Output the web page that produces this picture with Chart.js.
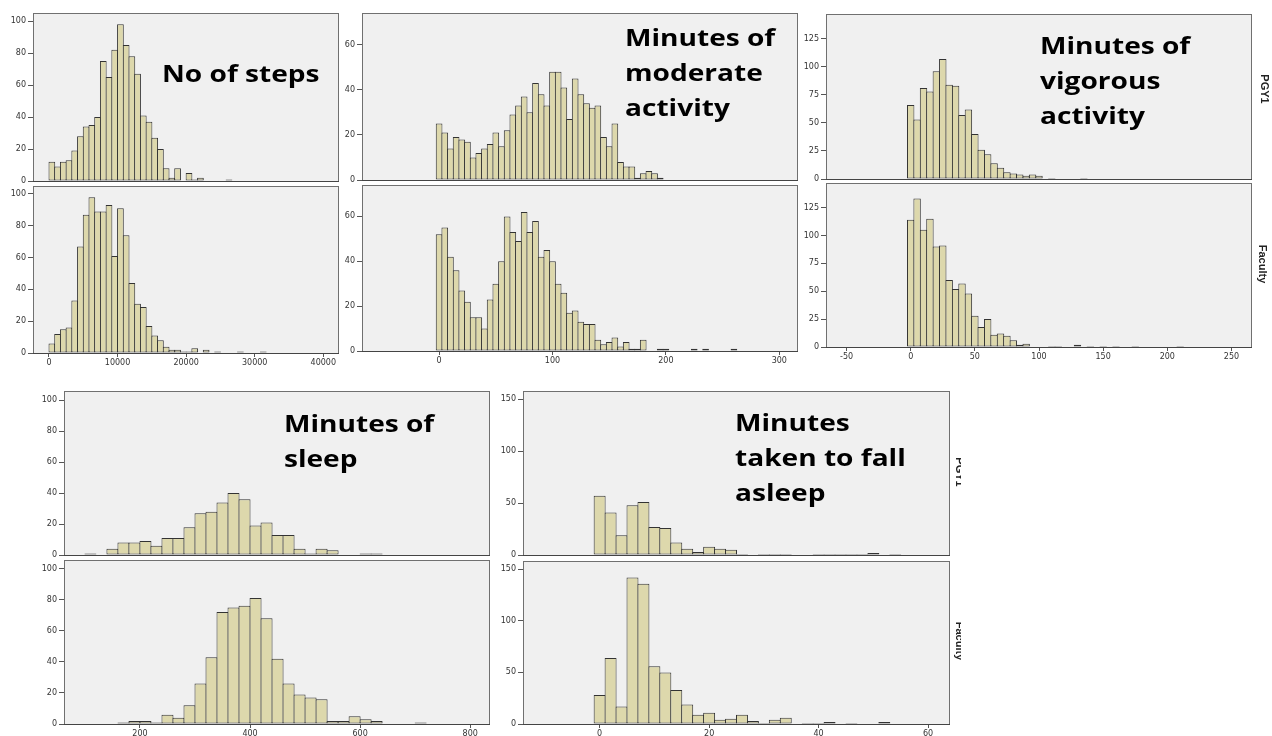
<!DOCTYPE html>
<html>
<head>
<meta charset="utf-8">
<script src="https://cdn.jsdelivr.net/npm/chart.js@4/dist/chart.umd.min.js"></script>
<style>
  body { margin: 0; background: #fff; width: 1272px; height: 736px; overflow: hidden; position: relative; font-family: "Open Sans", sans-serif; }
  canvas { position: absolute; z-index: 1; }
  .title { position: absolute; z-index: 2; font-weight: 700; font-size: 24px; line-height: 35px; color: #000; white-space: nowrap; transform-origin: 0 0; transform: scaleX(1.17); }
  .group { position: absolute; font-family: "Liberation Sans", sans-serif; font-weight: 700; font-size: 11px; color: #222; white-space: nowrap; transform: translate(-50%, -50%) rotate(90deg); }
  .clip { position: absolute; z-index: 2; overflow: hidden; }
</style>
</head>
<body>

<div class="title" style="left:162px; top:55px;">No of steps</div>
<div class="title" style="left:625px; top:19px;">Minutes of<br>moderate<br>activity</div>
<div class="title" style="left:1040px; top:27px;">Minutes of<br>vigorous<br>activity</div>
<div class="title" style="left:284px; top:405px;">Minutes of<br>sleep</div>
<div class="title" style="left:735px; top:404px;">Minutes<br>taken to fall<br>asleep</div>

<div class="clip" style="left:1252px; top:0px; width:20px; height:360px;">
  <div class="group" style="left:13px; top:89px;">PGY1</div>
  <div class="group" style="left:11px; top:264px;">Faculty</div>
</div>
<div class="clip" style="left:940px; top:380px; width:21px; height:340px;">
  <div class="group" style="left:20px; top:92px;">PGY1</div>
  <div class="group" style="left:20px; top:261px;">Faculty</div>
</div>

<script>
// histogram counts (bins in order, zero = empty bin)
const stepsBinStart = 0;
const stepsBinWidth = 20000 / 24;
const stepsTicks = [0, 10000, 20000, 30000, 40000];
const stepsCountTicks = [0, 20, 40, 60, 80, 100];
const stepsPGY1 = [12, 9, 12, 13, 19, 28, 34, 35, 40, 75, 65, 82, 98, 85, 78, 67, 41, 37, 27, 20,
  8, 2, 8, 0, 5, 1, 2, 0, 0, 0, 0, 1];
const stepsFaculty = [6, 12, 15, 16, 33, 67, 87, 98, 89, 89, 93, 61, 91, 74, 44, 31, 29, 17, 11, 8,
  4, 2, 2, 1, 1, 3, 0, 2, 0, 1, 0, 0, 0, 1, 0, 0, 0, 1];

const moderateBinStart = -2.5;
const moderateBinWidth = 5;
const moderateTicks = [0, 100, 200, 300];
const moderateCountTicks = [0, 20, 40, 60];
const moderatePGY1 = [25, 21, 14, 19, 18, 17, 10, 12, 14, 16, 21, 15, 22, 29, 33, 37, 30, 43, 38, 33,
  48, 48, 41, 27, 45, 38, 34, 32, 33, 19, 15, 25, 8, 6, 6, 1, 3, 4, 3, 1];
const moderateFaculty = [52, 55, 42, 36, 27, 22, 15, 15, 10, 23, 30, 40, 60, 53, 49, 62, 53, 58, 42, 45,
  40, 30, 26, 17, 18, 13, 12, 12, 5, 3, 4, 6, 2, 4, 1, 1, 5, 0, 0, 1,
  1, 0, 0, 0, 0, 1, 0, 1, 0, 0, 0, 0, 1];

const vigorousBinStart = -2.5;
const vigorousBinWidth = 5;
const vigorousTicks = [-50, 0, 50, 100, 150, 200, 250];
const vigorousCountTicks = [0, 25, 50, 75, 100, 125];
const vigorousPGY1 = [66, 53, 81, 78, 96, 107, 84, 83, 57, 62, 40, 26, 22, 14, 10, 6, 5, 4, 3, 4,
  3, 0, 1, 0, 0, 0, 0, 1];
const vigorousFaculty = [114, 133, 105, 115, 90, 91, 60, 52, 57, 48, 28, 18, 25, 11, 12, 10, 6, 2, 3, 0,
  0, 0, 1, 1, 0, 0, 2, 0, 1, 0, 1, 0, 1, 0, 0, 1, 0, 0, 0, 0, 0, 0, 1];

const sleepBinStart = 100;
const sleepBinWidth = 20;
const sleepTicks = [200, 400, 600, 800];
const sleepCountTicks = [0, 20, 40, 60, 80, 100];
const sleepPGY1 = [1, 0, 4, 8, 8, 9, 6, 11, 11, 18, 27, 28, 34, 40, 36, 19, 21, 13, 13, 4,
  1, 4, 3, 0, 0, 1, 1];
const sleepFaculty = [0, 0, 0, 1, 2, 2, 1, 6, 4, 12, 26, 43, 72, 75, 76, 81, 68, 42, 26, 19,
  17, 16, 2, 2, 5, 3, 2, 0, 0, 0, 1];

const fallBinStart = -1;
const fallBinWidth = 2;
const fallTicks = [0, 20, 40, 60];
const fallCountTicks = [0, 50, 100, 150];
const fallPGY1 = [57, 41, 19, 48, 51, 27, 26, 12, 6, 3, 8, 6, 5, 1, 0, 1, 1, 1, 0, 0,
  1, 1, 1, 1, 1, 2, 0, 1];
const fallFaculty = [28, 64, 17, 142, 136, 56, 50, 33, 19, 9, 11, 4, 5, 9, 3, 1, 4, 6, 0, 1,
  1, 2, 0, 1, 0, 0, 2];

// panel frames on the page: [left, top, right, bottom]
const panels = [
  { frame: [33, 13, 339, 181], xr: [-2333, 42290], xt: stepsTicks, ymax: 105, yt: stepsCountTicks, counts: stepsPGY1, b0: stepsBinStart, bw: stepsBinWidth, showX: false },
  { frame: [33, 186, 339, 353], xr: [-2333, 42290], xt: stepsTicks, ymax: 105, yt: stepsCountTicks, counts: stepsFaculty, b0: stepsBinStart, bw: stepsBinWidth, showX: true },
  { frame: [362, 13, 798, 180], xr: [-68, 316.5], xt: moderateTicks, ymax: 74, yt: moderateCountTicks, counts: moderatePGY1, b0: moderateBinStart, bw: moderateBinWidth, showX: false },
  { frame: [362, 185, 798, 351], xr: [-68, 316.5], xt: moderateTicks, ymax: 74, yt: moderateCountTicks, counts: moderateFaculty, b0: moderateBinStart, bw: moderateBinWidth, showX: true },
  { frame: [826, 14, 1252, 179], xr: [-66, 266], xt: vigorousTicks, ymax: 147, yt: vigorousCountTicks, counts: vigorousPGY1, b0: vigorousBinStart, bw: vigorousBinWidth, showX: false },
  { frame: [826, 183, 1252, 347], xr: [-66, 266], xt: vigorousTicks, ymax: 147, yt: vigorousCountTicks, counts: vigorousFaculty, b0: vigorousBinStart, bw: vigorousBinWidth, showX: true },
  { frame: [64, 391, 490, 555], xr: [62, 836], xt: sleepTicks, ymax: 106, yt: sleepCountTicks, counts: sleepPGY1, b0: sleepBinStart, bw: sleepBinWidth, showX: false },
  { frame: [64, 560, 490, 724], xr: [62, 836], xt: sleepTicks, ymax: 105.5, yt: sleepCountTicks, counts: sleepFaculty, b0: sleepBinStart, bw: sleepBinWidth, showX: true },
  { frame: [523, 391, 950, 555], xr: [-14, 64], xt: fallTicks, ymax: 158, yt: fallCountTicks, counts: fallPGY1, b0: fallBinStart, bw: fallBinWidth, showX: false },
  { frame: [523, 561, 950, 724], xr: [-14, 64], xt: fallTicks, ymax: 158, yt: fallCountTicks, counts: fallFaculty, b0: fallBinStart, bw: fallBinWidth, showX: true },
];

const Y_AXIS_W = 34;
const PAD = 8;

// grey plot background and frame, like SPSS panels
const framePlugin = {
  id: "panelFrame",
  beforeDraw(chart) {
    const { ctx, chartArea: a } = chart;
    ctx.save();
    ctx.fillStyle = "#f0f0f0";
    ctx.fillRect(a.left, a.top, a.right - a.left, a.bottom - a.top);
    ctx.restore();
  },
  afterDraw(chart) {
    const { ctx, chartArea: a } = chart;
    ctx.save();
    ctx.strokeStyle = "#707070";
    ctx.lineWidth = 1;
    ctx.strokeRect(a.left + 0.5, a.top + 0.5, a.right - a.left - 1, a.bottom - a.top);
    ctx.strokeStyle = "#444";
    ctx.beginPath();
    ctx.moveTo(a.left, a.bottom + 0.5);
    ctx.lineTo(a.right, a.bottom + 0.5);
    ctx.stroke();
    ctx.restore();
  },
};

const tickFont = { family: "DejaVu Sans", size: 8 };

panels.forEach((p) => {
  const [L, T, R, B] = p.frame;
  const xh = p.showX ? 16 : 0;
  const canvas = document.createElement("canvas");
  canvas.width = R - L + Y_AXIS_W + PAD;
  canvas.height = B - T + xh + PAD * 2;
  canvas.style.left = L - Y_AXIS_W + "px";
  canvas.style.top = T - PAD + "px";
  document.body.appendChild(canvas);

  const binPx = (p.bw * (R - L)) / (p.xr[1] - p.xr[0]);
  const data = p.counts.map((c, i) => ({ x: p.b0 + (i + 0.5) * p.bw, y: c || null }));

  new Chart(canvas.getContext("2d"), {
    type: "bar",
    data: {
      datasets: [
        {
          data: data,
          backgroundColor: "#ddd8ac",
          borderColor: "#333333",
          borderWidth: 1,
          borderSkipped: false,
          barPercentage: (binPx + 1) / binPx,
          categoryPercentage: 1,
        },
      ],
    },
    options: {
      responsive: false,
      animation: false,
      layout: { padding: { left: 0, top: PAD, right: PAD, bottom: PAD } },
      plugins: { legend: { display: false }, tooltip: { enabled: false } },
      scales: {
        x: {
          type: "linear",
          min: p.xr[0],
          max: p.xr[1],
          offset: false,
          border: { display: false },
          grid: { display: p.showX, offset: false, drawOnChartArea: false, tickLength: 4, tickColor: "#555" },
          ticks: {
            display: p.showX,
            maxRotation: 0,
            autoSkip: false,
            padding: 1,
            color: "#333",
            font: tickFont,
            callback: (v) => String(v),
          },
          afterBuildTicks: (s) => { s.ticks = p.xt.map((v) => ({ value: v })); },
          afterFit: (s) => { s.height = xh; },
        },
        y: {
          min: 0,
          max: p.ymax,
          border: { display: false },
          grid: { drawOnChartArea: false, tickLength: 5, tickColor: "#555" },
          ticks: {
            padding: 2,
            color: "#333",
            font: tickFont,
            callback: (v) => String(v),
          },
          afterBuildTicks: (s) => { s.ticks = p.yt.map((v) => ({ value: v })); },
          afterFit: (s) => { s.width = Y_AXIS_W; },
        },
      },
    },
    plugins: [framePlugin],
  });
});
</script>
</body>
</html>
